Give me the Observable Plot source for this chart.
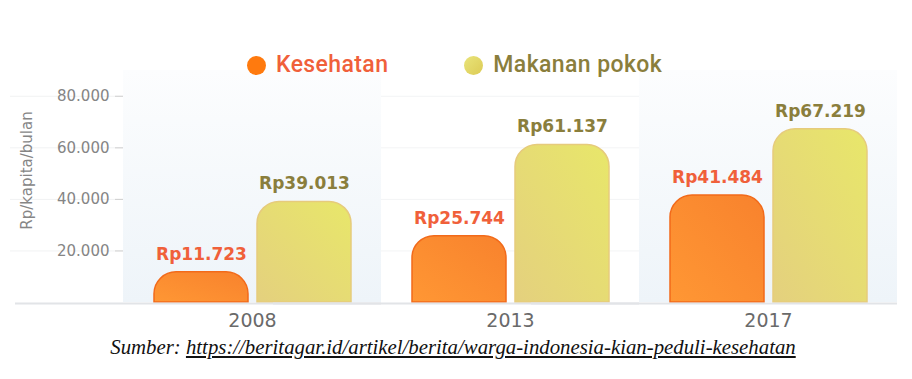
<!DOCTYPE html>
<html>
<head>
<meta charset="utf-8">
<script src="https://cdn.jsdelivr.net/npm/d3@7"></script>
<script src="https://cdn.jsdelivr.net/npm/@observablehq/plot@0.6"></script>
<style>
  body { margin: 0; background: #fff; }
  #wrap { position: relative; width: 912px; height: 379px; overflow: hidden; background: #fff; }
  #chart svg { display: block; }
  #legend { position: absolute; top: 52px; left: 247px; display: flex; align-items: center; gap: 76px;
            font-family: Roboto, sans-serif; font-size: 23px; font-weight: 500; line-height: 26px; letter-spacing: 0.4px; }
  .item { display: flex; align-items: center; gap: 10px; }
  .dot { width: 19px; height: 19px; border-radius: 50%; }
  #caption { position: absolute; top: 335px; left: 0; width: 906px; text-align: center;
             font-family: "Liberation Serif", "Times New Roman", serif; font-style: italic;
             font-size: 20.8px; line-height: 24px; color: #111; }
</style>
</head>
<body>
<div id="wrap">
  <div id="chart"></div>
  <div id="legend"></div>
  <div id="caption"></div>
</div>
<script>
// ---- data ----
const years = ["2008", "2013", "2017"];
const series = ["Kesehatan", "Makanan pokok"];
const kesehatan = [11723, 25744, 41484];
const makananPokok = [39013, 61137, 67219];
const yTicks = [20000, 40000, 60000, 80000];
const shadedYears = ["2008", "2017"];
const yLabel = "Rp/kapita/bulan";
const sourceLabel = "Sumber:";
const sourceUrl = "https://beritagar.id/artikel/berita/warga-indonesia-kian-peduli-kesehatan";

// ---- styling ----
const labelColors = ["#F0603A", "#8A7E3C"];
const dotFills = ["#FF7A0E", "linear-gradient(135deg, #E9E47A, #DCCB55)"];
const yMax = 90000;

const fmt = d3.formatLocale({decimal: ",", thousands: ".", grouping: [3], currency: ["Rp", ""]}).format(",");

const rows = years.flatMap((yr, i) => [
  {year: yr, series: series[0], value: kesehatan[i]},
  {year: yr, series: series[1], value: makananPokok[i]}
]);
const kes = rows.filter(d => d.series === series[0]);
const mak = rows.filter(d => d.series === series[1]);

const plot = Plot.plot({
  width: 912,
  height: 336,
  marginTop: 70,
  marginBottom: 34,
  marginLeft: 123,
  marginRight: 15,
  style: {fontFamily: "'DejaVu Sans', sans-serif", background: "transparent", overflow: "visible"},
  fx: {domain: years, padding: 0, label: null},
  x: {domain: series, paddingInner: 0.0874, paddingOuter: 0.296, axis: null},
  y: {domain: [0, yMax], axis: null},
  marks: [
    // faint gridlines (left margin and unshaded band)
    Plot.ruleY(yTicks.map(v => ({year: "2008", v})), {fx: "year", y: "v", stroke: "#f1f2f3", insetLeft: -113, insetRight: 258}),
    Plot.ruleY(yTicks.map(v => ({year: "2013", v})), {fx: "year", y: "v", stroke: "#f3f4f5"}),
    // shaded background bands
    Plot.barY(shadedYears, {fx: d => d, y1: 0, y2: () => yMax, fill: "url(#gBand)"}),
    // bars
    Plot.barY(kes, {fx: "year", x: "series", y: "value", fill: "url(#gK)", stroke: "#F26A1A", strokeWidth: 1.5, ry1: 22}),
    Plot.barY(mak, {fx: "year", x: "series", y: "value", fill: "url(#gM)", stroke: "#E6CB7C", strokeWidth: 1.5, ry1: 22}),
    // baseline
    Plot.ruleY([0], {stroke: "#e2e4e7", strokeWidth: 2, dy: 1, insetLeft: -108}),
    // value labels
    Plot.text(kes, {fx: "year", x: "series", y: "value", text: d => "Rp" + fmt(d.value), dy: -18,
      fill: labelColors[0], fontSize: 17, fontWeight: "bold"}),
    Plot.text(mak, {fx: "year", x: "series", y: "value", text: d => "Rp" + fmt(d.value), dy: -18,
      fill: labelColors[1], fontSize: 17, fontWeight: "bold"}),
    // axes
    Plot.axisY({ticks: yTicks, tickFormat: fmt, tickSize: 8, tickPadding: 6, fontSize: 15,
      stroke: "#cfcfcf", fill: "#858585", label: null}),
    Plot.axisFx({anchor: "bottom", tickSize: 0, tickPadding: 11, fontSize: 19, fill: "#6a6a6a", label: null}),
    // y-axis title
    Plot.text([{year: years[0], t: yLabel}], {fx: "year", text: "t", frameAnchor: "left", textAnchor: "middle",
      rotate: -90, dx: -96, dy: -16, fill: "#858585", fontSize: 15})
  ]
});

// gradient definitions
const svg = d3.select(plot);
const defs = svg.insert("defs", ":first-child");
const gb = defs.append("linearGradient").attr("id", "gBand").attr("x1", 0).attr("y1", 0).attr("x2", 0).attr("y2", 1);
gb.append("stop").attr("offset", "0%").attr("stop-color", "#fcfdfe");
gb.append("stop").attr("offset", "100%").attr("stop-color", "#eef4f9");
const gk = defs.append("linearGradient").attr("id", "gK").attr("x1", 0).attr("y1", 1).attr("x2", 1).attr("y2", 0);
gk.append("stop").attr("offset", "0%").attr("stop-color", "#FF9734");
gk.append("stop").attr("offset", "100%").attr("stop-color", "#F8822D");
const gm = defs.append("linearGradient").attr("id", "gM").attr("x1", 0).attr("y1", 1).attr("x2", 1).attr("y2", 0);
gm.append("stop").attr("offset", "0%").attr("stop-color", "#E4D07E");
gm.append("stop").attr("offset", "100%").attr("stop-color", "#E8E76A");

document.getElementById("chart").appendChild(plot);

// legend
const legend = document.getElementById("legend");
series.forEach((s, i) => {
  const item = document.createElement("div");
  item.className = "item";
  const dot = document.createElement("span");
  dot.className = "dot";
  dot.style.background = dotFills[i];
  const label = document.createElement("span");
  label.textContent = s;
  label.style.color = labelColors[i];
  item.appendChild(dot);
  item.appendChild(label);
  legend.appendChild(item);
});

// caption
const cap = document.getElementById("caption");
cap.appendChild(document.createTextNode(sourceLabel + " "));
const u = document.createElement("u");
u.textContent = sourceUrl;
cap.appendChild(u);
</script>
</body>
</html>
